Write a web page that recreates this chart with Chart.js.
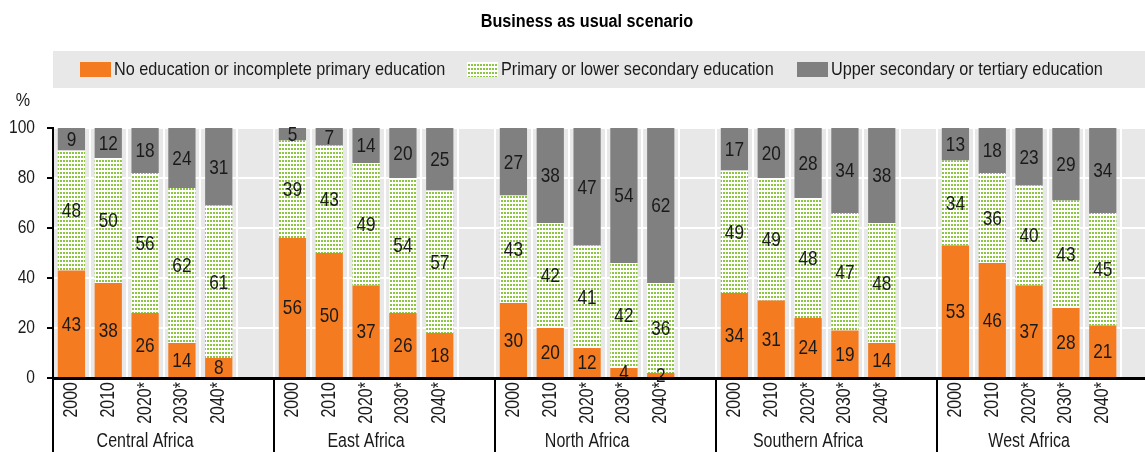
<!DOCTYPE html>
<html>
<head>
<meta charset="utf-8">
<script src="https://cdn.jsdelivr.net/npm/chart.js@4.4.1/dist/chart.umd.min.js"></script>
<style>
  html, body { margin: 0; padding: 0; overflow: hidden; background: #fff; }
  #wrap { width: 1180px; height: 452px; }
</style>
</head>
<body>
<div id="wrap"><canvas id="myChart" width="1180" height="452"></canvas></div>
<script>
// datos //
const regions = ['Central Africa', 'East Africa', 'North Africa', 'Southern Africa', 'West Africa'];
const years = ['2000', '2010', '2020*', '2030*', '2040*'];
const noEducation = [
  43, 38, 26, 14, 8,
  56, 50, 37, 26, 18,
  30, 20, 12, 4, 2,
  34, 31, 24, 19, 14,
  53, 46, 37, 28, 21
];
const primaryEducation = [
  48, 50, 56, 62, 61,
  39, 43, 49, 54, 57,
  43, 42, 41, 42, 36,
  49, 49, 48, 47, 48,
  34, 36, 40, 43, 45
];
const upperEducation = [
  9, 12, 18, 24, 31,
  5, 7, 14, 20, 25,
  27, 38, 47, 54, 62,
  17, 20, 28, 34, 38,
  13, 18, 23, 29, 34
];
const yTicks = [0, 20, 40, 60, 80, 100];

const FONT = '"Liberation Sans", Arial, sans-serif';
const NARROW = 0.8; // la fuente original es tipo Arial Narrow

// etiquetas con un hueco despues de cada region //
const labels = [];
const withGaps = arr => {
  const out = [];
  regions.forEach((r, g) => {
    years.forEach((y, i) => out.push(arr[g * years.length + i]));
    out.push(null);
  });
  return out;
};
regions.forEach(() => {
  years.forEach(y => labels.push(y));
  labels.push('');
});

// patron de puntos verdes //
function dotPattern() {
  const c = document.createElement('canvas');
  c.width = 3; c.height = 4;
  const g = c.getContext('2d');
  g.fillStyle = '#ffffff';
  g.fillRect(0, 0, 3, 4);
  g.fillStyle = '#8cc63f';
  g.fillRect(0, 0, 2, 2);
  return g.createPattern(c, 'repeat');
}
const dots = dotPattern();

// texto angosto //
function narrow(ctx, text, x, y, opts) {
  ctx.save();
  ctx.translate(x, y);
  if (opts.rotate) ctx.rotate(opts.rotate);
  ctx.scale(opts.sx || NARROW, 1);
  ctx.font = opts.font;
  ctx.fillStyle = opts.color || '#1a1a1a';
  ctx.textAlign = opts.align || 'center';
  ctx.textBaseline = 'middle';
  ctx.fillText(text, 0, 0);
  ctx.restore();
}

const decor = {
  id: 'decor',
  beforeDraw(chart) {
    const ctx = chart.ctx;
    const a = chart.chartArea;
    ctx.save();
    ctx.fillStyle = '#e8e8e8';
    ctx.fillRect(a.left, a.top, a.right - a.left, a.bottom - a.top);
    // banda de la leyenda //
    ctx.fillRect(a.left, 51, chart.width - a.left, 37);
    ctx.restore();
  },
  afterDatasetsDraw(chart) {
    const ctx = chart.ctx;
    chart.data.datasets.forEach((ds, d) => {
      const meta = chart.getDatasetMeta(d);
      meta.data.forEach((bar, i) => {
        const v = ds.data[i];
        if (v == null) return;
        const p = bar.getProps(['x', 'y', 'base'], true);
        narrow(ctx, String(v), p.x, (p.y + p.base) / 2 + 1, { font: '21px ' + FONT, sx: 0.82 });
      });
    });
  },
  afterDraw(chart) {
    const ctx = chart.ctx;
    const a = chart.chartArea;
    const x = chart.scales.x;
    const y = chart.scales.y;
    const step = x.getPixelForValue(1) - x.getPixelForValue(0);

    // titulo //
    narrow(ctx, 'Business as usual scenario', 587, 22, { font: 'bold 18px ' + FONT, sx: 0.9, color: '#000' });

    // leyenda //
    const items = [{ ds: 0, x: 80 }, { ds: 1, x: 467 }, { ds: 2, x: 797 }];
    items.forEach(it => {
      const ds = chart.data.datasets[it.ds];
      ctx.fillStyle = ds.backgroundColor;
      ctx.fillRect(it.x, 62, 31, 15);
      narrow(ctx, ds.label, it.x + 34, 70, { font: '19px ' + FONT, align: 'left', sx: 0.855 });
    });

    // eje y //
    narrow(ctx, '%', 23, 101, { font: '19px ' + FONT, sx: 0.85 });
    yTicks.forEach(v => {
      narrow(ctx, String(v), 35, y.getPixelForValue(v), { font: '19px ' + FONT, align: 'right', sx: 0.82 });
    });

    // etiquetas de anos //
    labels.forEach((lab, i) => {
      if (!lab) return;
      narrow(ctx, lab, x.getPixelForValue(i), a.bottom + 4, {
        font: '20px ' + FONT, align: 'right', rotate: -Math.PI / 2, sx: 0.8
      });
    });

    // separadores y nombres de region //
    ctx.save();
    ctx.strokeStyle = '#000';
    ctx.lineWidth = 2;
    regions.forEach((r, g) => {
      const first = g * (years.length + 1);
      const left = x.getPixelForValue(first) - step / 2;
      ctx.beginPath();
      ctx.moveTo(left, a.bottom);
      ctx.lineTo(left, chart.height);
      ctx.stroke();
    });
    ctx.restore();
    regions.forEach((r, g) => {
      const first = g * (years.length + 1);
      const mid = (x.getPixelForValue(first) + x.getPixelForValue(first + years.length - 1)) / 2;
      narrow(ctx, r, mid, 441, { font: '20px ' + FONT });
    });
  }
};

const ctx = document.getElementById('myChart');
new Chart(ctx, {
  type: 'bar',
  data: {
    labels: labels,
    datasets: [
      { label: 'No education or incomplete primary education', data: withGaps(noEducation), backgroundColor: '#f47b20' },
      { label: 'Primary or lower secondary education', data: withGaps(primaryEducation), backgroundColor: dots },
      { label: 'Upper secondary or tertiary education', data: withGaps(upperEducation), backgroundColor: '#808080' }
    ]
  },
  options: {
    responsive: false,
    animation: false,
    devicePixelRatio: 1,
    layout: { padding: { top: 128, right: 22, left: 0, bottom: 0 } },
    datasets: { bar: { barPercentage: 0.74, categoryPercentage: 1 } },
    plugins: {
      legend: { display: false },
      title: { display: false },
      tooltip: { enabled: false }
    },
    scales: {
      x: {
        stacked: true,
        afterFit: s => { s.height = 74; },
        grid: { color: '#ffffff', lineWidth: 2, drawTicks: false, offset: true },
        border: { color: '#000', width: 3 },
        ticks: { display: false, autoSkip: false }
      },
      y: {
        stacked: true,
        min: yTicks[0],
        max: yTicks[yTicks.length - 1],
        afterFit: s => { s.width = 53; },
        afterBuildTicks: s => { s.ticks = yTicks.map(v => ({ value: v })); },
        grid: { color: '#ffffff', lineWidth: 2, tickColor: '#000', tickLength: 6 },
        border: { color: '#000', width: 2 },
        ticks: { display: false }
      }
    }
  },
  plugins: [decor]
});
</script>
</body>
</html>
